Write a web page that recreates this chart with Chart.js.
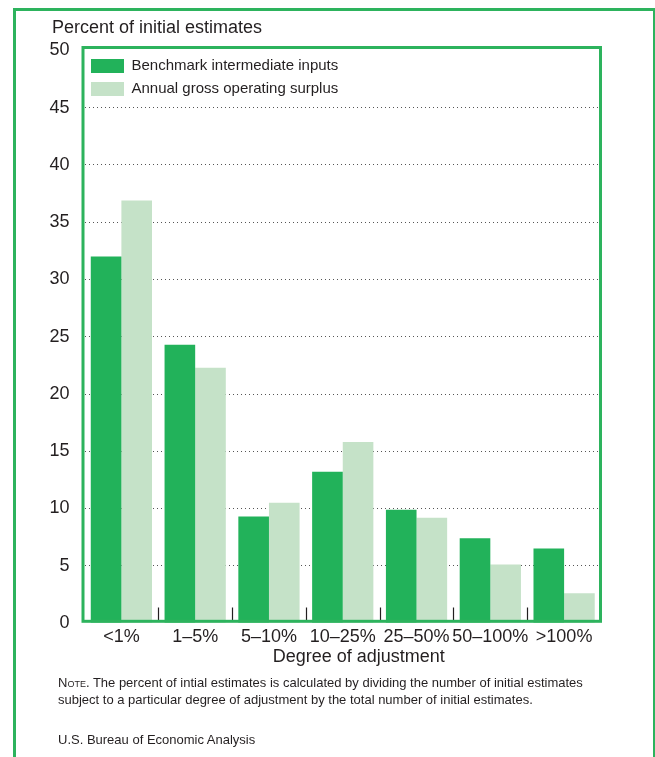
<!DOCTYPE html>
<html><head><meta charset="utf-8">
<script src="https://cdn.jsdelivr.net/npm/chart.js@4.4.1/dist/chart.umd.min.js"></script>
<style>
html,body{margin:0;padding:0;background:#fff;}
#wrap{position:relative;width:655px;height:757px;overflow:hidden;font-family:"Liberation Sans",Arial,sans-serif;color:#231f20;}
#frame{position:absolute;left:13px;top:7.5px;width:637px;height:800px;border-left:3px solid #2db35d;border-top:3px solid #2db35d;border-right:2px solid #2db35d;box-sizing:content-box;}
#chartBox{position:absolute;left:0;top:0;width:655px;height:757px;}
#ytitle{position:absolute;left:52px;top:17.5px;font-size:18px;line-height:1;white-space:nowrap;}
.note{position:absolute;left:58px;font-size:13px;line-height:16.5px;white-space:nowrap;transform-origin:0 0;}
.sc{font-variant:small-caps;}
</style>
</head><body>
<div id="wrap">
<div id="frame"></div>
<div id="chartBox"><canvas id="c" width="655" height="757"></canvas></div>
<div id="ytitle">Percent of initial estimates</div>
<div class="note" id="note" style="top:675px;"><span class="sc">Note</span>. The percent of intial estimates is calculated by dividing the number of initial estimates<br>subject to a particular degree of adjustment by the total number of initial estimates.</div>
<div class="note" id="src" style="top:732px;">U.S. Bureau of Economic Analysis</div>
</div>
<script>
const categories = ['<1%', '1–5%', '5–10%', '10–25%', '25–50%', '50–100%', '>100%'];
const benchmarkInputs = [32.0, 24.3, 9.3, 13.2, 9.9, 7.4, 6.5];
const annualSurplus = [36.9, 22.3, 10.5, 15.8, 9.2, 5.1, 2.6];
const seriesNames = ['Benchmark intermediate inputs', 'Annual gross operating surplus'];
const yTickValues = [0, 5, 10, 15, 20, 25, 30, 35, 40, 45, 50];

const GREEN = '#22b25a';
const LIGHT = '#c5e2c8';
const FRAME = '#2db35d';
const TEXT = '#231f20';
const FONT = '"Liberation Sans", Arial, sans-serif';

const decorations = {
  id: 'decorations',
  afterLayout(chart) {
    const a = chart.chartArea;
    const lg = chart.legend;
    if (lg) {
      lg.left = a.left - 1.5;
      lg.top = a.top;
      lg.right = a.right;
      lg.bottom = a.bottom;
    }
    const xs = chart.scales.x;
    if (xs && !xs._titleShifted) {
      const orig = xs.drawTitle;
      xs.drawTitle = function () {
        const c = this.ctx;
        c.save();
        c.translate(16, 2);
        orig.call(this);
        c.restore();
      };
      xs._titleShifted = true;
    }
  },
  afterDraw(chart) {
    const ctx = chart.ctx;
    const a = chart.chartArea;
    const xs = chart.scales.x;
    ctx.save();
    // boundary tick marks between categories
    ctx.strokeStyle = TEXT;
    ctx.lineWidth = 1.2;
    for (let i = 1; i < categories.length; i++) {
      const x = Math.round((xs.getPixelForValue(i - 1) + xs.getPixelForValue(i)) / 2) + 0.5;
      ctx.beginPath();
      ctx.moveTo(x, a.bottom - 3);
      ctx.lineTo(x, a.bottom - 15.5);
      ctx.stroke();
    }
    // inner frame
    ctx.strokeStyle = FRAME;
    ctx.lineWidth = 3;
    const l = a.left - 1.5, t = a.top - 3, r = a.right - 0.5, b = a.bottom - 1.7;
    ctx.strokeRect(l, t, r - l, b - t);
    ctx.restore();
  }
};

new Chart(document.getElementById('c'), {
  type: 'bar',
  data: {
    labels: categories,
    datasets: [
      { label: seriesNames[0], data: benchmarkInputs, backgroundColor: GREEN, borderWidth: 0 },
      { label: seriesNames[1], data: annualSurplus, backgroundColor: LIGHT, borderWidth: 0 }
    ]
  },
  options: {
    responsive: false,
    animation: false,
    devicePixelRatio: 1,
    layout: { padding: { left: 20.5, right: 54, top: 50.5, bottom: 84 } },
    datasets: { bar: { categoryPercentage: 0.83, barPercentage: 1.0 } },
    plugins: {
      legend: {
        position: 'chartArea',
        align: 'start',
        labels: {
          boxWidth: 33, boxHeight: 14, padding: 8,
          color: TEXT,
          font: { family: FONT, size: 15 }
        }
      },
      tooltip: { enabled: false },
      title: { display: false }
    },
    scales: {
      x: {
        grid: { display: false },
        border: { display: false },
        ticks: { color: TEXT, padding: -4.5, font: { family: FONT, size: 18 }, maxRotation: 0, autoSkip: false },
        title: { display: true, text: 'Degree of adjustment', color: TEXT, font: { family: FONT, size: 18 }, padding: { top: 0, bottom: 7 } },
        afterFit(s) { s.height = 50; }
      },
      y: {
        min: 0, max: 50,
        z: 1,
        afterBuildTicks(s) { s.ticks = yTickValues.map(v => ({ value: v })); },
        grid: {
          drawTicks: false,
          color: ctx => (ctx.tick && (ctx.tick.value === 0 || ctx.tick.value === 50)) ? 'rgba(0,0,0,0)' : '#555',
          lineWidth: 1
        },
        border: { display: false, dash: [1, 3] },
        ticks: { color: TEXT, padding: 15, font: { family: FONT, size: 18 } },
        afterFit(s) { s.width = 64; }
      }
    }
  },
  plugins: [decorations]
});
</script>
</body></html>
